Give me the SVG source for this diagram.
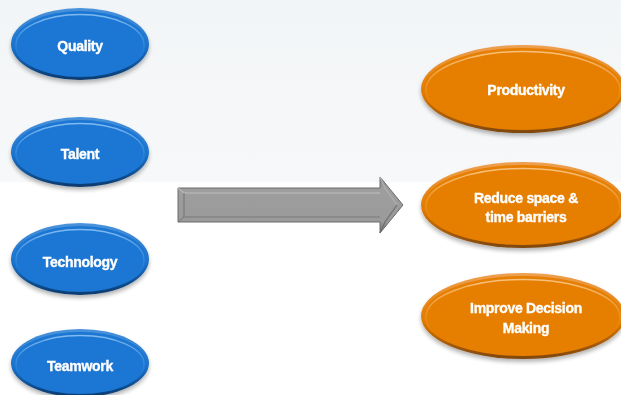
<svg xmlns="http://www.w3.org/2000/svg" width="621" height="395" viewBox="0 0 621 395">
<defs>
  <linearGradient id="bgTop" x1="0" y1="0" x2="0" y2="1">
    <stop offset="0" stop-color="#f2f5f7"/>
    <stop offset="1" stop-color="#f7f8f9"/>
  </linearGradient>
  <linearGradient id="blueRim" x1="0" y1="0" x2="0" y2="1">
    <stop offset="0" stop-color="#4a93dc"/>
    <stop offset="0.55" stop-color="#1a70c8"/>
    <stop offset="1" stop-color="#0a3a6e"/>
  </linearGradient>
  <linearGradient id="orangeRim" x1="0" y1="0" x2="0" y2="1">
    <stop offset="0" stop-color="#eea050"/>
    <stop offset="0.55" stop-color="#e07a00"/>
    <stop offset="1" stop-color="#7e4610"/>
  </linearGradient>
  <linearGradient id="blueHi" x1="0" y1="0" x2="0" y2="1">
    <stop offset="0" stop-color="#8cc2f4" stop-opacity="0.9"/>
    <stop offset="0.45" stop-color="#8cc2f4" stop-opacity="0.25"/>
    <stop offset="0.7" stop-color="#8cc2f4" stop-opacity="0"/>
  </linearGradient>
  <linearGradient id="orangeHi" x1="0" y1="0" x2="0" y2="1">
    <stop offset="0" stop-color="#f9c98a" stop-opacity="0.9"/>
    <stop offset="0.45" stop-color="#f9c98a" stop-opacity="0.25"/>
    <stop offset="0.7" stop-color="#f9c98a" stop-opacity="0"/>
  </linearGradient>
  <linearGradient id="arrowFill" x1="0" y1="0" x2="0" y2="1">
    <stop offset="0" stop-color="#8a8a8a"/>
    <stop offset="0.2" stop-color="#9e9e9e"/>
    <stop offset="0.8" stop-color="#9a9a9a"/>
    <stop offset="1" stop-color="#6e6e6e"/>
  </linearGradient>
  <filter id="shadow" x="-20%" y="-20%" width="140%" height="150%">
    <feGaussianBlur in="SourceAlpha" stdDeviation="2"/>
    <feOffset dx="0" dy="3" result="b"/>
    <feComponentTransfer><feFuncA type="linear" slope="0.3"/></feComponentTransfer>
    <feMerge><feMergeNode/><feMergeNode in="SourceGraphic"/></feMerge>
  </filter>
  <style>
    .lbl { font-family: "Liberation Sans", Arial, sans-serif; font-weight: bold; font-size: 14px; fill: #ffffff; stroke: #ffffff; stroke-width: 0.35; text-anchor: middle; letter-spacing: -0.3px; }
    .bRim { fill: url(#blueRim); }
    .bIn { fill: #1a76d3; }
    .bHi { fill: none; stroke: url(#blueHi); stroke-width: 1.5; }
    .oRim { fill: url(#orangeRim); }
    .oIn { fill: #e67e00; }
    .oHi { fill: none; stroke: url(#orangeHi); stroke-width: 1.5; }
  </style>
</defs>

<rect x="0" y="0" width="621" height="395" fill="#ffffff"/>
<rect x="0" y="0" width="621" height="182" fill="url(#bgTop)"/>

<g id="quality" filter="url(#shadow)">
  <ellipse class="bRim" cx="80" cy="44" rx="69" ry="36"/>
  <ellipse class="bIn" cx="80" cy="44" rx="66.5" ry="33"/>
  <ellipse class="bHi" cx="80" cy="45" rx="64" ry="30.5"/>
  <text class="lbl" x="80" y="51">Quality</text>
</g>
<g id="talent" filter="url(#shadow)">
  <ellipse class="bRim" cx="80" cy="152" rx="69" ry="35"/>
  <ellipse class="bIn" cx="80" cy="152" rx="66.5" ry="32"/>
  <ellipse class="bHi" cx="80" cy="153" rx="64" ry="29.5"/>
  <text class="lbl" x="80" y="159">Talent</text>
</g>
<g id="technology" filter="url(#shadow)">
  <ellipse class="bRim" cx="80" cy="259" rx="69" ry="36"/>
  <ellipse class="bIn" cx="80" cy="259" rx="66.5" ry="33"/>
  <ellipse class="bHi" cx="80" cy="260" rx="64" ry="30.5"/>
  <text class="lbl" x="80" y="267">Technology</text>
</g>
<g id="teamwork" filter="url(#shadow)">
  <ellipse class="bRim" cx="80" cy="363" rx="69" ry="34"/>
  <ellipse class="bIn" cx="80" cy="363" rx="66.5" ry="31"/>
  <ellipse class="bHi" cx="80" cy="364" rx="64" ry="28.5"/>
  <text class="lbl" x="80" y="371">Teamwork</text>
</g>

<g id="productivity" filter="url(#shadow)">
  <ellipse class="oRim" cx="523" cy="89" rx="102" ry="44"/>
  <ellipse class="oIn" cx="523" cy="89" rx="99.5" ry="41"/>
  <ellipse class="oHi" cx="523" cy="90" rx="97" ry="38.5"/>
  <text class="lbl" x="526" y="95">Productivity</text>
</g>
<g id="reduce" filter="url(#shadow)">
  <ellipse class="oRim" cx="523" cy="205" rx="102" ry="43"/>
  <ellipse class="oIn" cx="523" cy="205" rx="99.5" ry="40"/>
  <ellipse class="oHi" cx="523" cy="206" rx="97" ry="37.5"/>
  <text class="lbl" x="526" y="203">Reduce space &amp;</text>
  <text class="lbl" x="526" y="222">time barriers</text>
</g>
<g id="improve" filter="url(#shadow)">
  <ellipse class="oRim" cx="523" cy="316" rx="102" ry="43"/>
  <ellipse class="oIn" cx="523" cy="316" rx="99.5" ry="40"/>
  <ellipse class="oHi" cx="523" cy="317" rx="97" ry="37.5"/>
  <text class="lbl" x="526" y="313">Improve Decision</text>
  <text class="lbl" x="526" y="333">Making</text>
</g>

<g id="connectors">
  <g id="big-arrow">
    <path d="M178,188 L380,188 L380,177 L403,205 L380,233 L380,222 L178,222 Z" fill="url(#arrowFill)" stroke="#6a6a6a" stroke-width="1"/>
    <path d="M178,188 L184,193 L380,193" fill="none" stroke="#b4b4b4" stroke-width="1.5"/>
    <path d="M184,193 L184,217 L380,217" fill="none" stroke="#7a7a7a" stroke-width="1.2"/>
    <path d="M178,222 L184,217" fill="none" stroke="#777777" stroke-width="1"/>
    <path d="M380,177 L385,188 L397,205" fill="none" stroke="#b0b0b0" stroke-width="1.2"/>
    <path d="M397,205 L385,222 L380,233" fill="none" stroke="#6e6e6e" stroke-width="1.2"/>
  </g>
</g>
</svg>
